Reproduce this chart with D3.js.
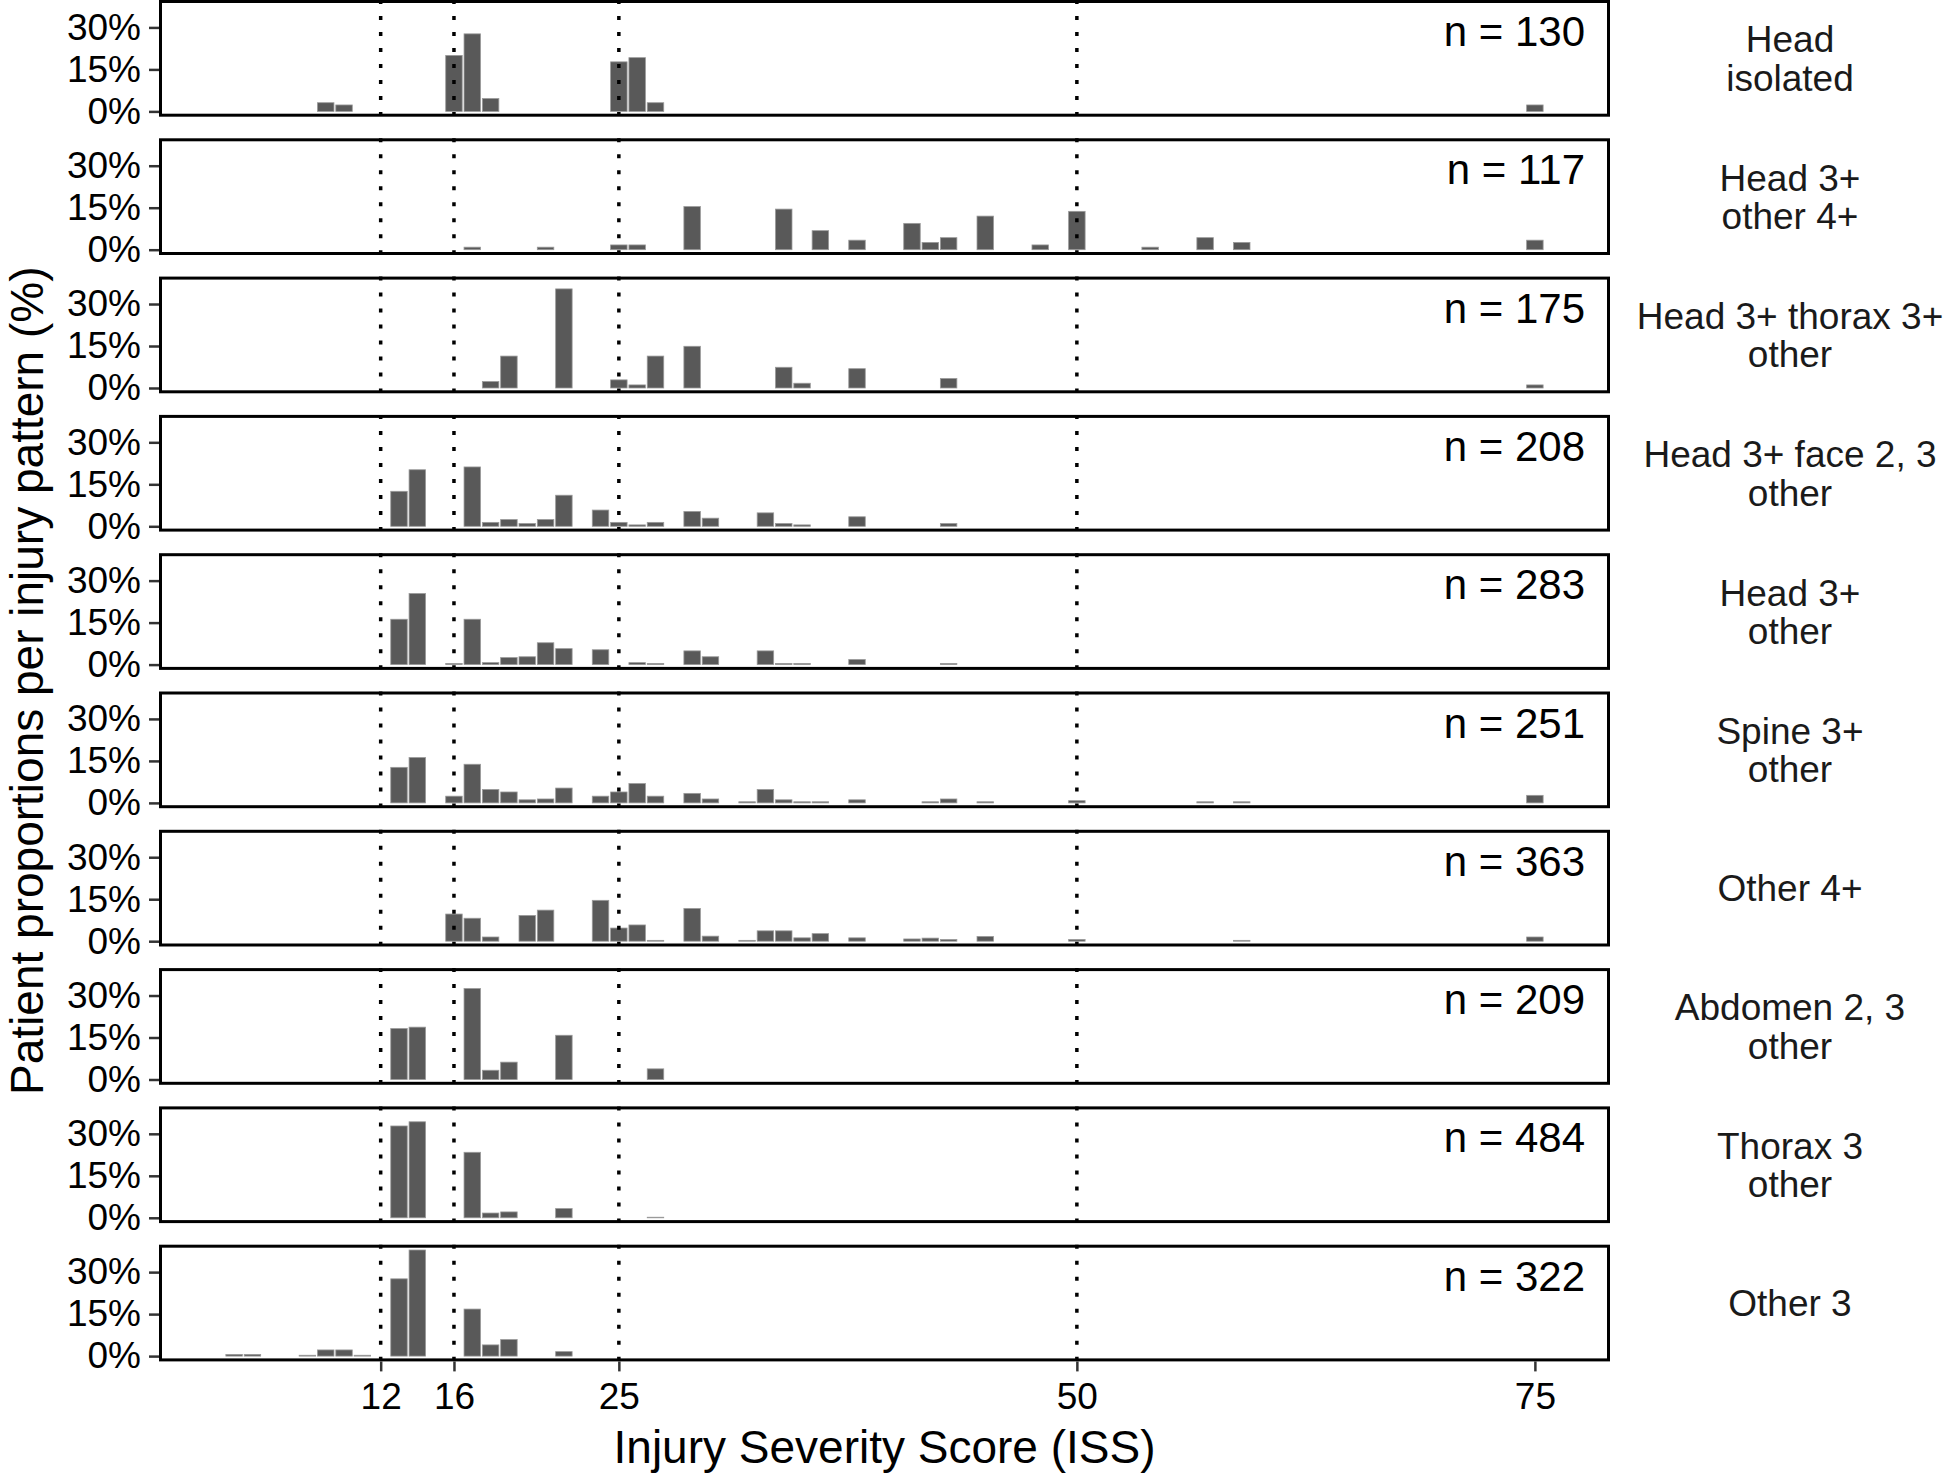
<!DOCTYPE html>
<html>
<head>
<meta charset="utf-8">
<script src="https://cdnjs.cloudflare.com/ajax/libs/d3/7.8.5/d3.min.js"></script>
<style>
	body { margin: 0; background: #fff; }
	svg { display: block; font-family: "Liberation Sans", Arial, Helvetica, sans-serif; }
</style>
</head>
<body>
<svg></svg>
<script>
// injury patterns (facet rows), one entry per strip label line
var patterns = [
	["Head", "isolated"],
	["Head 3+", "other 4+"],
	["Head 3+ thorax 3+", "other"],
	["Head 3+ face 2, 3", "other"],
	["Head 3+", "other"],
	["Spine 3+", "other"],
	["Other 4+"],
	["Abdomen 2, 3", "other"],
	["Thorax 3", "other"],
	["Other 3"]
];
var nPatients = [130, 117, 175, 208, 283, 251, 363, 209, 484, 322];

// ISS values with a bar, per pattern
var issValues = [
	[9, 10, 16, 17, 18, 25, 26, 27, 75],
	[17, 21, 25, 26, 29, 34, 36, 38, 41, 42, 43, 45, 48, 50, 54, 57, 59, 75],
	[18, 19, 22, 25, 26, 27, 29, 34, 35, 38, 43, 75],
	[13, 14, 17, 18, 19, 20, 21, 22, 24, 25, 26, 27, 29, 30, 33, 34, 35, 38, 43],
	[13, 14, 16, 17, 18, 19, 20, 21, 22, 24, 26, 27, 29, 30, 33, 34, 35, 38, 43],
	[13, 14, 16, 17, 18, 19, 20, 21, 22, 24, 25, 26, 27, 29, 30, 32, 33, 34, 35, 36, 38, 42, 43, 45, 50, 57, 59, 75],
	[16, 17, 18, 20, 21, 24, 25, 26, 27, 29, 30, 32, 33, 34, 35, 36, 38, 41, 42, 43, 45, 50, 59, 75],
	[13, 14, 17, 18, 19, 22, 27],
	[13, 14, 17, 18, 19, 22, 27],
	[4, 5, 8, 9, 10, 11, 13, 14, 17, 18, 19, 22]
];

// patient proportions (%) matching issValues
var percentValues = [
	[3.1, 2.3, 20.0, 27.7, 4.6, 17.7, 19.2, 3.1, 2.3],
	[0.9, 0.9, 1.7, 1.7, 15.4, 14.5, 6.8, 3.4, 9.4, 2.6, 4.3, 12.0, 1.7, 13.7, 0.9, 4.3, 2.6, 3.4],
	[2.3, 11.4, 35.4, 2.9, 1.1, 11.4, 14.9, 7.4, 1.7, 6.9, 3.4, 1.1],
	[12.5, 20.2, 21.2, 1.4, 2.4, 1.0, 2.4, 11.1, 5.8, 1.4, 0.5, 1.4, 5.3, 2.9, 4.8, 1.0, 0.5, 3.4, 1.0],
	[16.2, 25.4, 0.4, 16.2, 0.7, 2.5, 2.8, 7.8, 5.7, 5.3, 0.7, 0.4, 4.9, 2.8, 4.9, 0.4, 0.4, 1.8, 0.4],
	[12.7, 16.2, 2.4, 13.8, 4.8, 3.9, 1.1, 1.4, 5.3, 2.4, 3.9, 6.9, 2.4, 3.4, 1.4, 0.4, 4.8, 1.1, 0.4, 0.4, 1.1, 0.4, 1.4, 0.4, 0.8, 0.4, 0.4, 2.7],
	[9.7, 8.2, 1.5, 9.2, 11.1, 14.6, 4.7, 5.8, 0.3, 11.7, 1.8, 0.3, 3.7, 3.7, 1.2, 2.7, 1.2, 0.8, 1.1, 0.6, 1.7, 0.6, 0.3, 1.5],
	[18.2, 18.7, 32.5, 3.3, 6.2, 15.8, 3.8],
	[32.8, 34.3, 23.4, 1.7, 2.1, 3.3, 0.2],
	[0.6, 0.6, 0.3, 2.2, 2.2, 0.3, 27.6, 37.9, 16.8, 4.0, 5.9, 1.6]
];

var xTicks = [12, 16, 25, 50, 75];
var yTicks = [0, 15, 30];
var cutoffs = [12, 16, 25, 50];

var svgWidth = 1946, svgHeight = 1473,
	panelLeft = 159, panelRight = 1610,
	panelHeight = 116.7, panelStep = 138.3,
	stripCenter = 1790;

var svg = d3.select("svg")
	.attr("width", svgWidth)
	.attr("height", svgHeight);

// ggplot-like scales: bars one unit wide, 5% expansion
var allIss = d3.merge(issValues);
var xLo = d3.min(allIss) - 0.5, xHi = d3.max(allIss) + 0.5, xPad = (xHi - xLo) * 0.05;
var xScale = d3.scaleLinear()
	.domain([xLo - xPad, xHi + xPad])
	.range([panelLeft, panelRight]);

var maxPct = d3.max(d3.merge(percentValues));
var yScale = d3.scaleLinear()
	.domain([-maxPct * 0.05, maxPct * 1.05])
	.range([panelHeight, 0]);

patterns.forEach(function(label, i) {
	drawPanel(i);
});
drawXAxis();
drawTitles();

// This function draws one facet row
function drawPanel(i) {
	var g = svg.append("g")
		.attr("transform", "translate(0," + (i * panelStep) + ")");

	var rows = issValues[i].map(function(d, j) {
		return { iss: d, pct: percentValues[i][j] };
	});
	var barWidth = xScale(0.9) - xScale(0);

	g.selectAll("rect.bar")
		.data(rows)
		.enter()
		.append("rect")
		.attr("class", "bar")
		.attr("x", function(d) { return xScale(d.iss) - barWidth / 2; })
		.attr("y", function(d) { return yScale(d.pct); })
		.attr("width", barWidth)
		.attr("height", function(d) { return yScale(0) - yScale(d.pct); })
		.attr("fill", "#595959")
		.attr("stroke", "#9a9a9a")
		.attr("stroke-width", 0.8);

	// dotted cut-off lines
	g.selectAll("line.cut")
		.data(cutoffs)
		.enter()
		.append("line")
		.attr("class", "cut")
		.attr("x1", function(d) { return xScale(d); })
		.attr("x2", function(d) { return xScale(d); })
		.attr("y1", 0)
		.attr("y2", panelHeight)
		.attr("stroke", "#000")
		.attr("stroke-width", 3.5)
		.attr("stroke-dasharray", "4,12");

	// panel border
	g.append("rect")
		.attr("x", panelLeft + 1.5)
		.attr("y", 1.5)
		.attr("width", panelRight - panelLeft - 3)
		.attr("height", panelHeight - 3)
		.attr("fill", "none")
		.attr("stroke", "#000")
		.attr("stroke-width", 3);

	var yAxis = d3.axisLeft(yScale)
		.tickValues(yTicks)
		.tickFormat(function(d) { return d + "%"; })
		.tickSize(10)
		.tickPadding(8);

	var ya = g.append("g")
		.attr("transform", "translate(" + panelLeft + ",0)")
		.call(yAxis);
	styleAxis(ya);

	// sample size
	g.append("text")
		.attr("x", 1585)
		.attr("y", 46)
		.attr("text-anchor", "end")
		.attr("font-size", 42)
		.text("n = " + nPatients[i]);

	// strip label on the right, one text per line
	var lines = patterns[i];
	var mid = panelHeight / 2;
	lines.forEach(function(t, k) {
		var y = lines.length == 1 ? mid + 13 : mid - 6 + k * 38.5;
		g.append("text")
			.attr("x", stripCenter)
			.attr("y", y)
			.attr("text-anchor", "middle")
			.attr("font-size", 37)
			.attr("fill", "#1a1a1a")
			.text(t);
	});
}

// This function sets the common x axis under the last panel
function drawXAxis() {
	var xAxis = d3.axisBottom(xScale)
		.tickValues(xTicks)
		.tickSize(10)
		.tickPadding(11);

	var xa = svg.append("g")
		.attr("transform", "translate(0," + ((patterns.length - 1) * panelStep + panelHeight) + ")")
		.call(xAxis);
	styleAxis(xa);
}

function styleAxis(axis) {
	axis.select(".domain").remove();
	axis.selectAll(".tick line")
		.attr("stroke", "#333")
		.attr("stroke-width", 2.5);
	axis.selectAll(".tick text")
		.attr("fill", "#000")
		.attr("font-size", 37)
		.attr("font-family", "Liberation Sans, Arial, sans-serif");
}

// This function adds the axis titles
function drawTitles() {
	svg.append("text")
		.attr("x", (panelLeft + panelRight) / 2)
		.attr("y", 1463)
		.attr("text-anchor", "middle")
		.attr("font-size", 46)
		.text("Injury Severity Score (ISS)");

	svg.append("text")
		.attr("transform", "translate(42.5," + ((patterns.length - 1) * panelStep + panelHeight) / 2 + ") rotate(-90)")
		.attr("text-anchor", "middle")
		.attr("font-size", 46)
		.text("Patient proportions per injury pattern (%)");
}
</script>
</body>
</html>
